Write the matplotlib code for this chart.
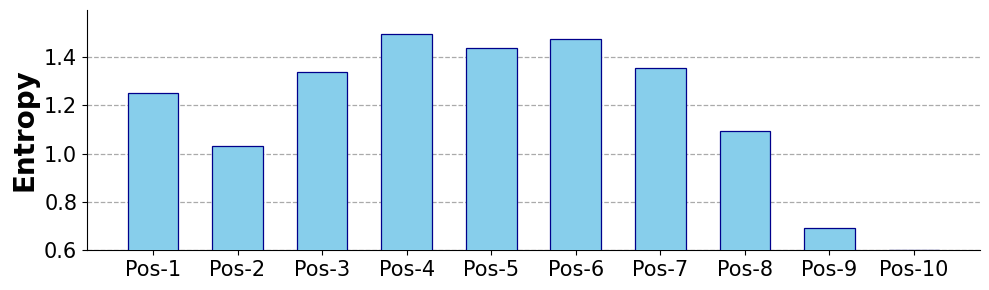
import matplotlib
matplotlib.use("Agg")
import matplotlib.pyplot as plt

categories = ["Pos-1", "Pos-2", "Pos-3", "Pos-4", "Pos-5", "Pos-6", "Pos-7", "Pos-8", "Pos-9", "Pos-10"]
entropy = [1.251, 1.031, 1.338, 1.495, 1.437, 1.475, 1.354, 1.093, 0.691, 0.600]

fig = plt.figure(figsize=(9.89, 2.9), dpi=100)
ax = fig.add_axes([87/989, 40/290, (980-87)/989, (250-10)/290])
x = list(range(len(categories)))
ax.bar(x, entropy, width=0.6, color="skyblue", edgecolor="darkblue", linewidth=0.9, zorder=3)
ax.set_xticks(x)
ax.set_xticklabels(categories, fontsize=15)
ax.set_ylim(0.6, 1.595)
ax.set_yticks([0.6, 0.8, 1.0, 1.2, 1.4])
ax.tick_params(axis="y", labelsize=15)
ax.set_ylabel("Entropy", fontsize=20, fontweight="bold")
ax.yaxis.grid(True, linestyle="--", color="#aaaaaa", linewidth=0.9, zorder=0)
ax.spines["top"].set_visible(False)
ax.spines["right"].set_visible(False)
fig.savefig("out.png", dpi=100)
